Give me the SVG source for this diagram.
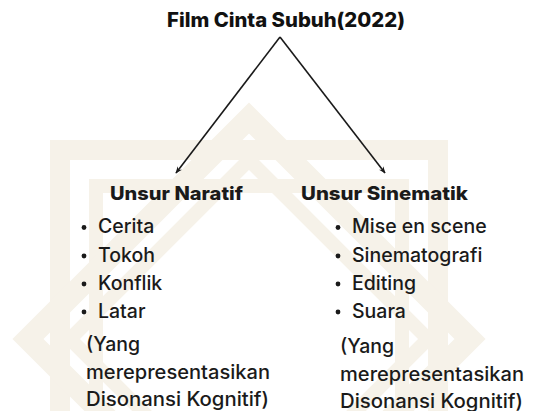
<svg xmlns="http://www.w3.org/2000/svg" width="534" height="411" viewBox="0 0 534 411">
  <defs>
    <marker id="ah" viewBox="0 0 10 10" refX="9" refY="5" markerWidth="7" markerHeight="7" orient="auto" markerUnits="userSpaceOnUse">
      <path d="M0,1 L10,5 L0,9 L3,5 Z" fill="#1a1a1a"/>
    </marker>
    <style>
      .wm { fill: none; stroke: #f6f2e9; stroke-linejoin: miter; }
      .title { font-family: Inter, "DejaVu Sans", sans-serif; font-weight: 800; font-size: 20px; fill: #111; }
      .head { font-family: Inter, "DejaVu Sans", sans-serif; font-weight: 800; font-size: 18.5px; fill: #1a1a1a; }
      .item { font-family: Inter, "DejaVu Sans", sans-serif; font-weight: 500; font-size: 19.5px; fill: #1a1a1a; }
      .conn { stroke: #1a1a1a; stroke-width: 1.6; fill: none; }
    </style>
  </defs>
  <rect width="534" height="411" fill="#ffffff"/>
  <g id="watermark">
    <rect class="wm" x="60" y="150" width="378" height="378" stroke-width="20"/>
    <rect class="wm" x="96" y="186" width="306" height="306" stroke-width="14"/>
    <polygon class="wm" points="249,118 470,339 249,560 28,339" stroke-width="22"/>
    <polygon class="wm" points="249,160 428,339 249,518 70,339" stroke-width="14"/>
  </g>
  <g id="connectors">
    <line class="conn" x1="280" y1="37" x2="176" y2="173" marker-end="url(#ah)"/>
    <line class="conn" x1="280" y1="37" x2="385" y2="173" marker-end="url(#ah)"/>
  </g>
  <g id="root">
    <text class="title" x="286" y="27" text-anchor="middle" textLength="238" lengthAdjust="spacingAndGlyphs">Film Cinta Subuh(2022)</text>
  </g>
  <g id="naratif">
    <text class="head" x="110" y="200" textLength="133" lengthAdjust="spacingAndGlyphs">Unsur Naratif</text>
    <circle cx="84" cy="227.5" r="2.4" fill="#1a1a1a"/>
    <text class="item" x="98" y="233">Cerita</text>
    <circle cx="84" cy="256" r="2.4" fill="#1a1a1a"/>
    <text class="item" x="98" y="261.5">Tokoh</text>
    <circle cx="84" cy="284" r="2.4" fill="#1a1a1a"/>
    <text class="item" x="98" y="289.5">Konflik</text>
    <circle cx="84" cy="312" r="2.4" fill="#1a1a1a"/>
    <text class="item" x="98" y="317.5">Latar</text>
    <text class="item" x="86" y="351">(Yang</text>
    <text class="item" x="86" y="378.5" textLength="184" lengthAdjust="spacingAndGlyphs">merepresentasikan</text>
    <text class="item" x="86" y="405.5" textLength="183" lengthAdjust="spacingAndGlyphs">Disonansi Kognitif)</text>
  </g>
  <g id="sinematik">
    <text class="head" x="301" y="200" textLength="167" lengthAdjust="spacingAndGlyphs">Unsur Sinematik</text>
    <circle cx="338" cy="227.5" r="2.4" fill="#1a1a1a"/>
    <text class="item" x="352" y="233">Mise en scene</text>
    <circle cx="338" cy="256" r="2.4" fill="#1a1a1a"/>
    <text class="item" x="352" y="261.5">Sinematografi</text>
    <circle cx="338" cy="284" r="2.4" fill="#1a1a1a"/>
    <text class="item" x="352" y="289.5">Editing</text>
    <circle cx="338" cy="312" r="2.4" fill="#1a1a1a"/>
    <text class="item" x="352" y="317.5">Suara</text>
    <text class="item" x="340" y="353">(Yang</text>
    <text class="item" x="340" y="381" textLength="184" lengthAdjust="spacingAndGlyphs">merepresentasikan</text>
    <text class="item" x="340" y="408" textLength="183" lengthAdjust="spacingAndGlyphs">Disonansi Kognitif)</text>
  </g>
</svg>
